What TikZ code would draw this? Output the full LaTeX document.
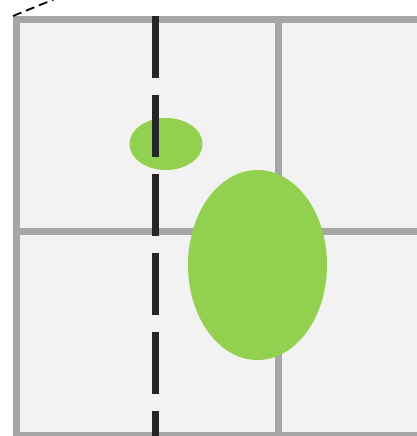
\documentclass[tikz,border=0pt]{standalone}
\usepackage{tikz}
\definecolor{cellgray}{HTML}{F2F2F2}
\definecolor{gridgray}{HTML}{A6A6A6}
\definecolor{blobgreen}{HTML}{92D050}
\definecolor{axisblack}{HTML}{262626}

\begin{document}
\begin{tikzpicture}[x=1pt,y=-1pt]
% Fix the page to the reference frame and cut what runs past it
\useasboundingbox (0,0) rectangle (417,436);
\clip (0,0) rectangle (417,436);

% Light cell background
\fill[cellgray] (16.5,19.5) rectangle (560,435.5);

% Gray grid lines
\draw[line width=7pt, color=gridgray] (560,19.5) -- (16.5,19.5) -- (16.5,435.5) -- (560,435.5);
\draw[line width=7pt, color=gridgray] (278.5,19.5) -- (278.5,435.5);
\draw[line width=7pt, color=gridgray] (16.5,231.5) -- (560,231.5);

% Thin dashed line leaving the corner
\draw[line width=1.8pt, color=black, dash pattern=on 9pt off 5pt] (13,16) -- (62,-4);

% Green ellipses
\fill[blobgreen] (166,144) ellipse (36.5 and 26);
\fill[blobgreen] (257.5,265) ellipse (69.5 and 95);

% Thick dashed vertical line
\draw[line width=6.5pt, color=axisblack, dash pattern=on 62pt off 17pt] (155.5,16) -- (155.5,440);
\end{tikzpicture}
\end{document}
